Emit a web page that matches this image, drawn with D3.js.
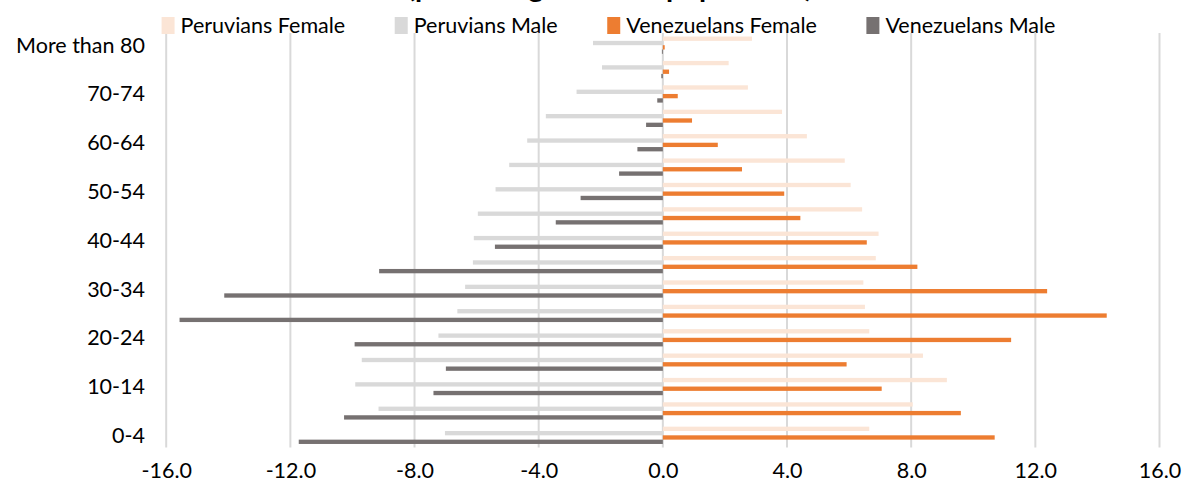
<!DOCTYPE html>
<html>
<head>
<meta charset="utf-8">
<script src="https://cdn.jsdelivr.net/npm/d3@7"></script>
<style>
  body { margin: 0; background: #fff; }
  svg { display: block; font-family: Lato, "Open Sans", sans-serif; }
</style>
</head>
<body>
<svg id="chart" width="1184" height="490"></svg>
<script>
// age groups, bottom to top (Excel order)
const ageGroups = [
  "0-4", "5-9", "10-14", "15-19", "20-24", "25-29", "30-34", "35-39",
  "40-44", "45-49", "50-54", "55-59", "60-64", "65-69", "70-74", "75-79",
  "More than 80",
];

// % of total population, same order as ageGroups (males shown negative)
const peruviansFemale = [6.65, 8.05, 9.15, 8.38, 6.65, 6.51, 6.46, 6.86, 6.95, 6.42, 6.05, 5.86, 4.64, 3.84, 2.74, 2.12, 2.87];
const peruviansMale = [-7.02, -9.16, -9.91, -9.7, -7.23, -6.62, -6.37, -6.12, -6.09, -5.96, -5.39, -4.95, -4.37, -3.77, -2.78, -1.96, -2.25];
const venezuelansFemale = [10.69, 9.6, 7.05, 5.92, 11.22, 14.3, 12.38, 8.2, 6.57, 4.43, 3.91, 2.55, 1.77, 0.94, 0.48, 0.2, 0.06];
const venezuelansMale = [-11.73, -10.27, -7.39, -6.99, -9.93, -15.57, -14.13, -9.14, -5.41, -3.45, -2.65, -1.41, -0.82, -0.54, -0.18, -0.05, -0.03];

const seriesNames = ["Peruvians Female", "Peruvians Male", "Venezuelans Female", "Venezuelans Male"];
const seriesColors = ["#fbe5d6", "#d9d9d9", "#ed7d31", "#767171"];
const xTicks = [-16, -12, -8, -4, 0, 4, 8, 12, 16];

const series = [peruviansFemale, peruviansMale, venezuelansFemale, venezuelansMale].map((vals, i) => ({
  name: seriesNames[i],
  color: seriesColors[i],
  values: vals,
}));

const svg = d3.select("#chart");
const plot = { left: 166.2, right: 1159.5, top: 33, bottom: 447.5 };

const x = d3.scaleLinear().domain([-16, 16]).range([plot.left, plot.right]);

const y = d3
  .scaleBand()
  .domain(ageGroups.slice().reverse())
  .range([plot.top, plot.bottom])
  .paddingInner(0.29)
  .paddingOuter(0.145);

const ySub = d3
  .scaleBand()
  .domain(seriesNames)
  .range([0, y.bandwidth()])
  .padding(0);

// plain hyphen for negatives, like Excel
const fmt = d3.formatLocale({ decimal: ".", thousands: ",", grouping: [3], currency: ["", ""], minus: "-" }).format(".1f");

// title (clipped at the top in the original)
svg
  .append("text")
  .attr("x", 610)
  .attr("y", -3)
  .attr("text-anchor", "middle")
  .style("font-size", "29px")
  .style("font-weight", "bold")
  .style("fill", "#000")
  .text("(percentage of total population)");

// gridlines
svg
  .append("g")
  .selectAll("line")
  .data(xTicks)
  .join("line")
  .attr("x1", (d) => x(d))
  .attr("x2", (d) => x(d))
  .attr("y1", plot.top)
  .attr("y2", plot.bottom)
  .attr("stroke", "#d9d9d9")
  .attr("stroke-width", 2);

// bars
const groups = svg
  .append("g")
  .selectAll("g")
  .data(series)
  .join("g")
  .attr("fill", (d) => d.color);

groups
  .selectAll("rect")
  .data((s) => s.values.map((v, i) => ({ name: s.name, age: ageGroups[i], value: v })))
  .join("rect")
  .attr("x", (d) => x(Math.min(0, d.value)))
  .attr("width", (d) => Math.abs(x(d.value) - x(0)))
  .attr("y", (d) => y(d.age) + ySub(d.name))
  .attr("height", ySub.bandwidth());

// category labels (every other one, like Excel)
const yAxis = d3
  .axisLeft(y)
  .tickValues(ageGroups.filter((d, i) => i % 2 === 0))
  .tickSize(0)
  .tickPadding(0);

svg
  .append("g")
  .attr("transform", "translate(145,0)")
  .call(yAxis)
  .call((g) => g.select(".domain").remove())
  .selectAll("text")
  .attr("dy", "0.35em")
  .style("font-size", "21.5px")
  .style("font-family", "Lato, sans-serif")
  .style("fill", "#000");

// x tick labels
const xAxis = d3
  .axisBottom(x)
  .tickValues(xTicks)
  .tickFormat(fmt)
  .tickSize(0)
  .tickPadding(0);

svg
  .append("g")
  .attr("transform", "translate(0,463)")
  .call(xAxis)
  .call((g) => g.select(".domain").remove())
  .selectAll("text")
  .style("font-size", "21.5px")
  .style("font-family", "Lato, sans-serif")
  .style("fill", "#000");

// legend
const legend = svg.append("g");
const items = legend
  .selectAll("g")
  .data(series)
  .join("g");

items
  .append("rect")
  .attr("y", 17)
  .attr("width", 13)
  .attr("height", 17)
  .attr("fill", (d) => d.color);

items
  .append("text")
  .attr("x", 19)
  .attr("y", 25.5)
  .attr("dy", "0.35em")
  .style("font-size", "21.5px")
  .style("fill", "#000")
  .text((d) => d.name);

const legendGap = 49.5;
let cursor = 0;
items.each(function () {
  const w = d3.select(this).select("text").node().getComputedTextLength();
  d3.select(this).attr("transform", `translate(${cursor},0)`);
  cursor += 19 + w + legendGap;
});
const legendWidth = cursor - legendGap;
legend.attr("transform", `translate(${608.5 - legendWidth / 2},0)`);
</script>
</body>
</html>
